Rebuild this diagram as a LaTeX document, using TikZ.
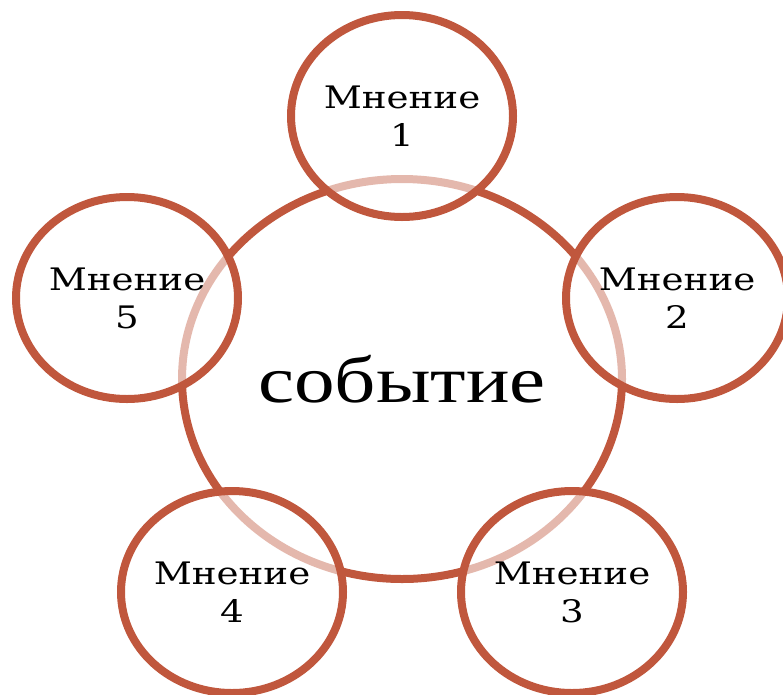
\documentclass[tikz,border=0pt]{standalone}
\usepackage{fontspec}
\usepackage{graphicx}
\newfontfamily\lblfont{DejaVu Serif}
\newfontfamily\bigfont{Liberation Serif}
\usetikzlibrary{shapes.geometric}
\definecolor{rust}{HTML}{C0573D}
\newcommand\widetxt[2]{\scalebox{#1}[1]{#2}}
\newcommand\opin[1]{\widetxt{1.2}{Мнение}\\\widetxt{1.2}{#1}}
\tikzset{
  ring/.style={draw=rust, line width=8pt, ellipse, inner sep=0pt},
  hub/.style={ring, minimum width=440pt, minimum height=400pt, font=\bigfont\fontsize{66}{70}\selectfont},
  opinion/.style={ring, minimum width=222pt, minimum height=202pt, fill=white, fill opacity=0.58, text opacity=1,
    align=center, font=\lblfont\fontsize{31}{38}\selectfont},
}
\begin{document}
\begin{tikzpicture}[x=1pt,y=-1pt]
\useasboundingbox (0,0) rectangle (783,694);
\clip (0,0) rectangle (783,694);
\node[hub] (c) at (402,379) {\widetxt{1.23}{событие}};
\node[opinion] (o1) at (402,116) {\opin{1}};
\node[opinion] (o2) at (677,298) {\opin{2}};
\node[opinion] (o3) at (572,592) {\opin{3}};
\node[opinion] (o4) at (232,592) {\opin{4}};
\node[opinion] (o5) at (127,298) {\opin{5}};
\end{tikzpicture}
\end{document}
